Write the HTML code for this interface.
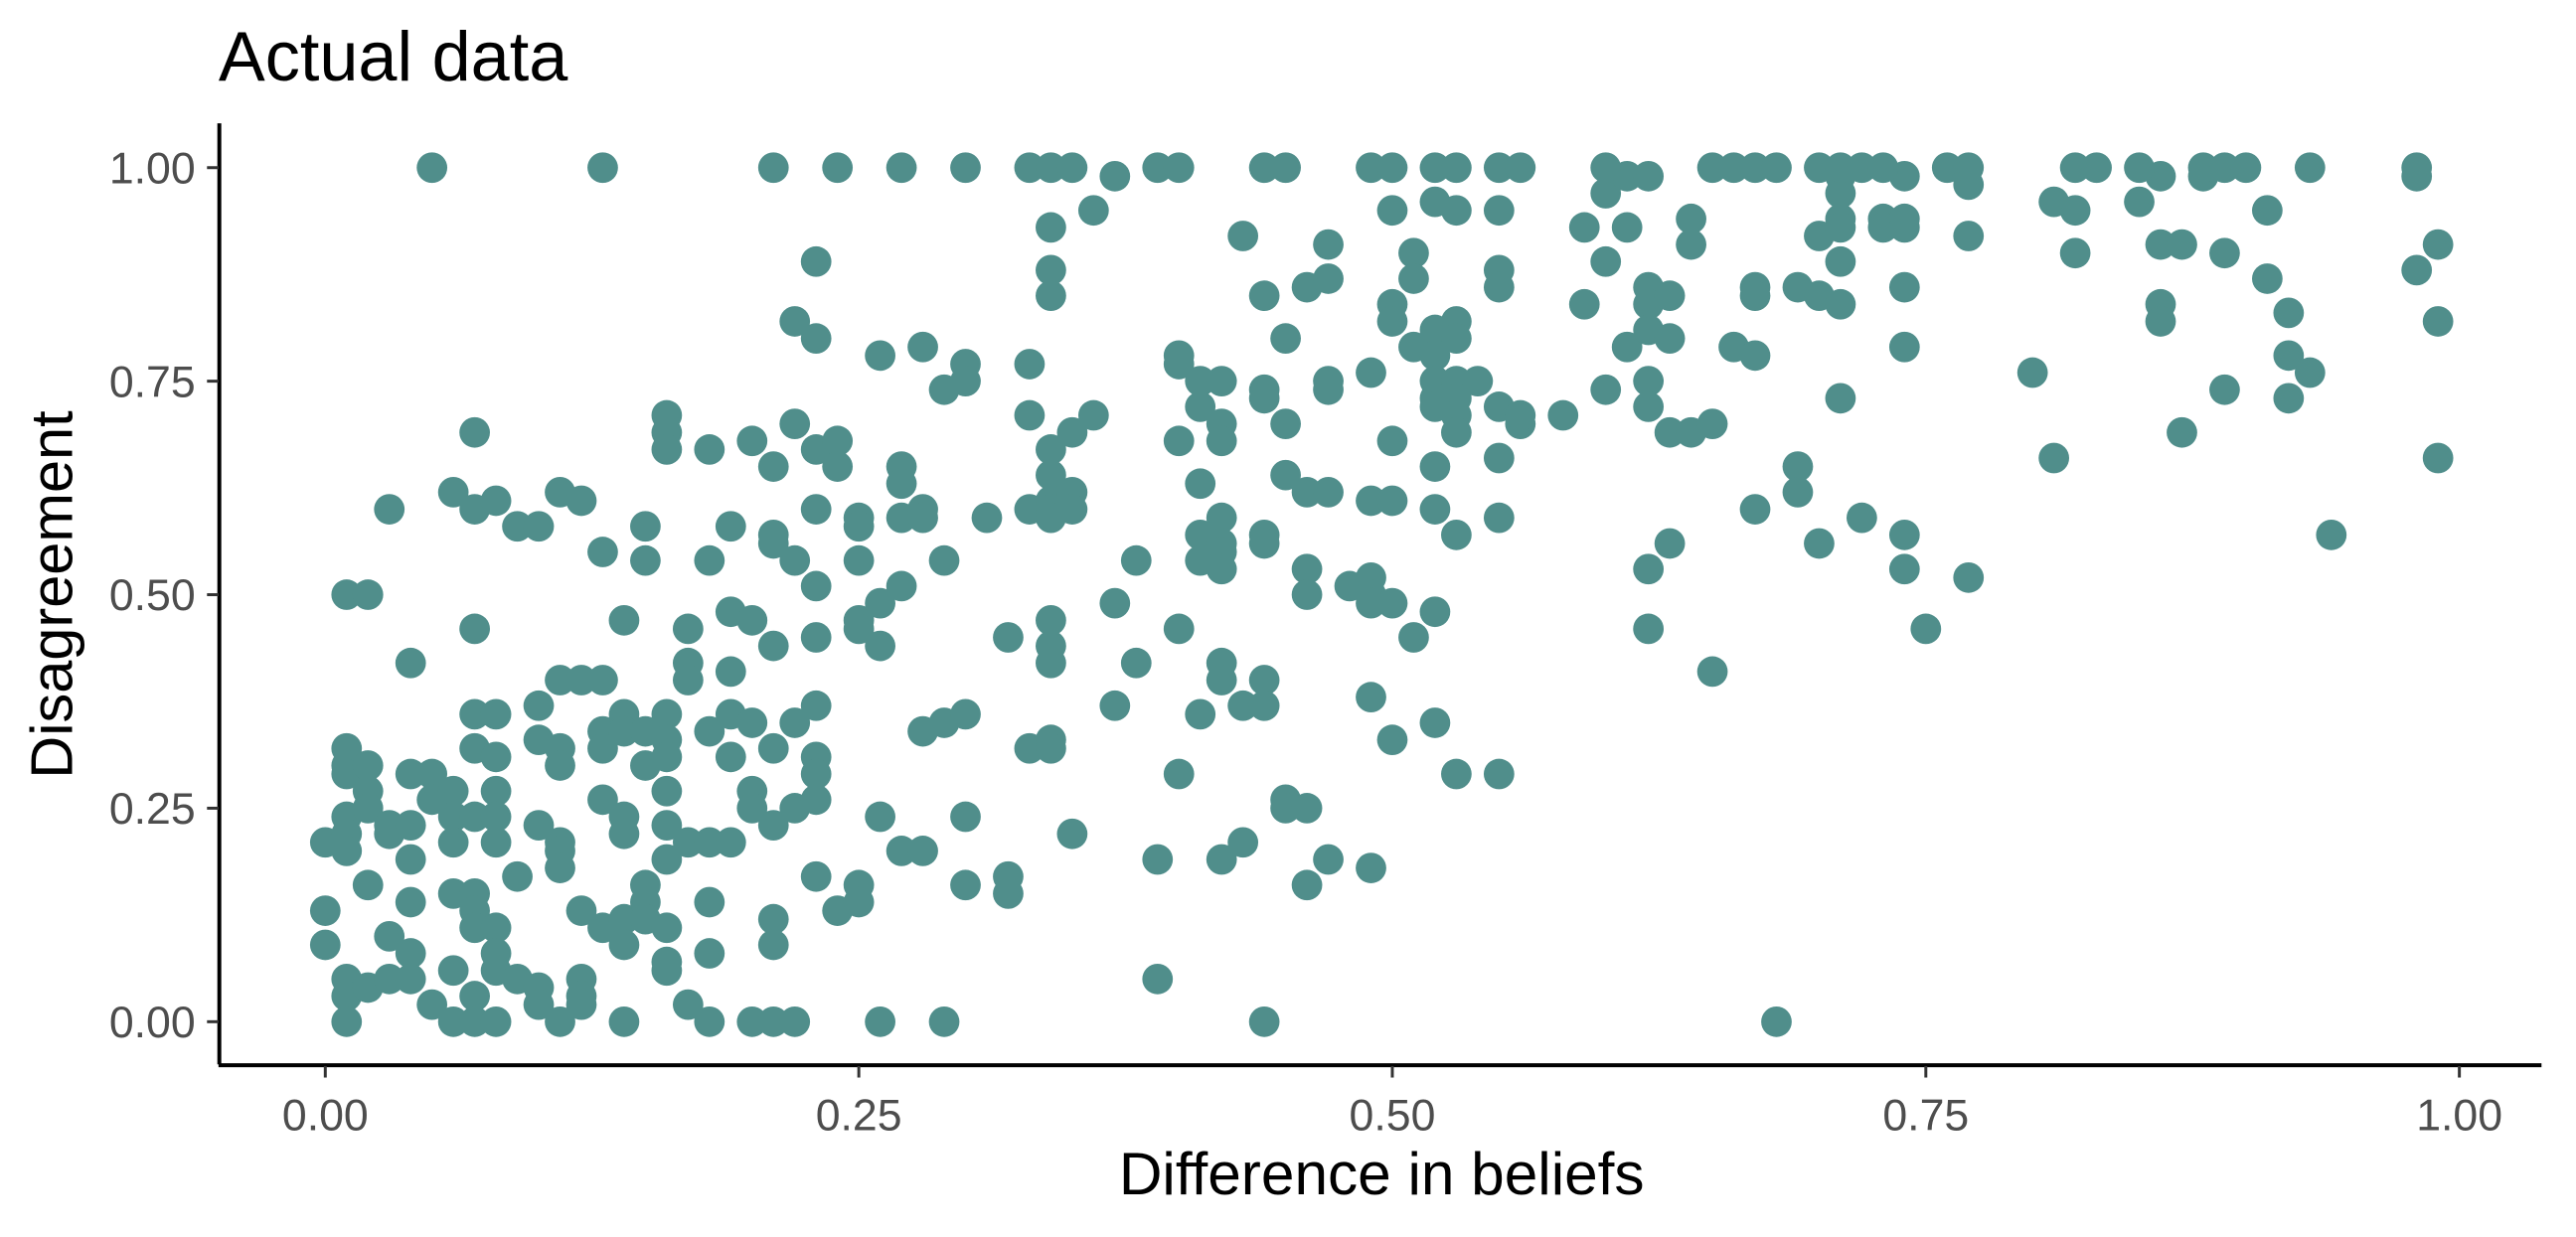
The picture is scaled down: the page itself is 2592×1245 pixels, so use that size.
<!DOCTYPE html>
<html><head><meta charset="utf-8">
<style>
html,body{margin:0;padding:0;background:#fff;}
svg{display:block;font-family:"Liberation Sans",sans-serif;}
</style></head>
<body>
<svg id="chart" width="2592" height="1245" viewBox="0 0 1568 753" xmlns="http://www.w3.org/2000/svg">
<text x="133" y="49" font-size="42.5" fill="#000">Actual data</text>
<g id="points"></g>
<line x1="133.5" y1="75" x2="133.5" y2="648" stroke="#000" stroke-width="2.4"/>
<line x1="133" y1="648.5" x2="1547" y2="648.5" stroke="#000" stroke-width="2.4"/>
<g id="xticks"></g>
<g id="yticks"></g>
<text x="841" y="727" font-size="36.5" text-anchor="middle" fill="#000">Difference in beliefs</text>
<text transform="translate(44,362) rotate(-90)" font-size="36" text-anchor="middle" fill="#000">Disagreement</text>
</svg>
<script>
const tickValues = [0, 0.25, 0.5, 0.75, 1];
const tickLabels = ["0.00", "0.25", "0.50", "0.75", "1.00"];
const topRowX = [0.05,0.13,0.21,0.24,0.27,0.30,0.33,0.34,0.35,0.39,0.40,0.44,0.45,0.49,0.50,0.52,0.53,0.55,0.56,0.60,0.65,0.66,0.67,0.68,0.70,0.71,0.72,0.73,0.76,0.77,0.82,0.83,0.85,0.88,0.89,0.90,0.93,0.98];
const bottomRowX = [0.01,0.06,0.07,0.08,0.11,0.14,0.18,0.20,0.21,0.22,0.26,0.29,0.44,0.68];
const otherPoints = [
[0.00,0.21],[0.00,0.13],[0.00,0.09],[0.01,0.50],[0.02,0.50],[0.01,0.32],[0.01,0.30],[0.01,0.29],[0.02,0.30],[0.01,0.24],[0.01,0.22],[0.01,0.20],[0.02,0.27],[0.02,0.25],[0.02,0.16],[0.01,0.05],[0.01,0.03],[0.02,0.04],[0.03,0.60],[0.03,0.22],[0.03,0.23],[0.03,0.10],[0.03,0.05],[0.04,0.42],[0.04,0.29],[0.04,0.23],[0.04,0.19],[0.04,0.14],[0.04,0.08],[0.04,0.05],[0.05,0.29],[0.05,0.26],[0.05,0.02],
[0.06,0.62],[0.06,0.27],[0.06,0.24],[0.06,0.21],[0.06,0.15],[0.06,0.06],[0.07,0.69],[0.07,0.60],[0.07,0.46],[0.07,0.36],[0.07,0.32],[0.07,0.24],[0.07,0.15],[0.07,0.13],[0.07,0.11],[0.07,0.03],[0.08,0.61],[0.08,0.36],[0.08,0.31],[0.08,0.27],[0.08,0.24],[0.08,0.21],[0.08,0.11],[0.08,0.08],[0.08,0.06],[0.09,0.58],[0.09,0.17],[0.09,0.05],[0.10,0.58],[0.10,0.37],[0.10,0.33],[0.10,0.23],[0.10,0.04],[0.10,0.02],
[0.11,0.62],[0.11,0.40],[0.11,0.32],[0.11,0.30],[0.11,0.21],[0.11,0.20],[0.11,0.18],[0.12,0.61],[0.12,0.40],[0.12,0.13],[0.12,0.05],[0.12,0.03],[0.12,0.02],[0.13,0.55],[0.13,0.40],[0.13,0.34],[0.13,0.32],[0.13,0.26],[0.13,0.11],[0.14,0.47],[0.14,0.36],[0.14,0.34],[0.14,0.24],[0.14,0.22],[0.14,0.12],[0.14,0.09],[0.15,0.58],[0.15,0.54],[0.15,0.34],[0.15,0.30],[0.15,0.16],[0.15,0.14],[0.15,0.12],
[0.16,0.71],[0.16,0.69],[0.16,0.67],[0.16,0.36],[0.16,0.33],[0.16,0.31],[0.16,0.27],[0.16,0.23],[0.16,0.19],[0.16,0.11],[0.16,0.07],[0.16,0.06],[0.17,0.46],[0.17,0.42],[0.17,0.40],[0.17,0.21],[0.17,0.02],[0.18,0.67],[0.18,0.54],[0.18,0.34],[0.18,0.21],[0.18,0.14],[0.18,0.08],[0.19,0.58],[0.19,0.48],[0.19,0.41],[0.19,0.36],[0.19,0.31],[0.19,0.21],[0.20,0.68],[0.20,0.47],[0.20,0.35],[0.20,0.27],[0.20,0.25],
[0.21,0.65],[0.21,0.57],[0.21,0.56],[0.21,0.44],[0.21,0.32],[0.21,0.23],[0.21,0.12],[0.21,0.09],[0.22,0.82],[0.22,0.70],[0.22,0.54],[0.22,0.35],[0.22,0.25],[0.23,0.89],[0.23,0.80],[0.23,0.67],[0.23,0.60],[0.23,0.51],[0.23,0.45],[0.23,0.37],[0.23,0.31],[0.23,0.29],[0.23,0.26],[0.23,0.17],[0.24,0.68],[0.24,0.65],[0.24,0.13],[0.25,0.59],[0.25,0.58],[0.25,0.54],[0.25,0.47],[0.25,0.46],[0.25,0.16],[0.25,0.14],
[0.26,0.78],[0.26,0.49],[0.26,0.44],[0.26,0.24],[0.27,0.65],[0.27,0.63],[0.27,0.59],[0.27,0.51],[0.27,0.20],[0.28,0.79],[0.28,0.60],[0.28,0.59],[0.28,0.34],[0.28,0.20],[0.29,0.74],[0.29,0.54],[0.29,0.35],[0.30,0.77],[0.30,0.75],[0.30,0.36],[0.30,0.24],[0.30,0.16],
[0.31,0.59],[0.32,0.45],[0.32,0.17],[0.32,0.15],[0.33,0.77],[0.33,0.71],[0.33,0.60],[0.33,0.32],[0.34,0.93],[0.34,0.88],[0.34,0.85],[0.34,0.67],[0.34,0.64],[0.34,0.61],[0.34,0.60],[0.34,0.59],[0.34,0.47],[0.34,0.44],[0.34,0.42],[0.34,0.33],[0.34,0.32],[0.35,0.69],[0.35,0.62],[0.35,0.60],[0.35,0.22],
[0.36,0.95],[0.36,0.71],[0.37,0.99],[0.37,0.49],[0.37,0.37],[0.38,0.54],[0.38,0.42],[0.39,0.19],[0.39,0.05],[0.40,0.78],[0.40,0.77],[0.40,0.68],[0.40,0.46],[0.40,0.29],
[0.41,0.75],[0.41,0.72],[0.41,0.63],[0.41,0.57],[0.41,0.54],[0.41,0.36],[0.42,0.75],[0.42,0.70],[0.42,0.68],[0.42,0.59],[0.42,0.56],[0.42,0.55],[0.42,0.53],[0.42,0.42],[0.42,0.40],[0.42,0.19],[0.43,0.92],[0.43,0.37],[0.43,0.21],[0.44,0.85],[0.44,0.74],[0.44,0.73],[0.44,0.57],[0.44,0.56],[0.44,0.40],[0.44,0.37],[0.45,0.80],[0.45,0.70],[0.45,0.64],[0.45,0.26],[0.45,0.25],
[0.46,0.86],[0.46,0.62],[0.46,0.53],[0.46,0.50],[0.46,0.25],[0.46,0.16],[0.47,0.91],[0.47,0.87],[0.47,0.75],[0.47,0.74],[0.47,0.62],[0.47,0.19],[0.48,0.51],[0.49,0.76],[0.49,0.61],[0.49,0.52],[0.49,0.50],[0.49,0.49],[0.49,0.38],[0.49,0.18],[0.50,0.95],[0.50,0.84],[0.50,0.82],[0.50,0.68],[0.50,0.61],[0.50,0.49],[0.50,0.33],
[0.51,0.90],[0.51,0.87],[0.51,0.79],[0.51,0.45],[0.52,0.96],[0.52,0.81],[0.52,0.78],[0.52,0.75],[0.52,0.73],[0.52,0.72],[0.52,0.65],[0.52,0.60],[0.52,0.48],[0.52,0.35],[0.53,0.95],[0.53,0.82],[0.53,0.80],[0.53,0.75],[0.53,0.73],[0.53,0.71],[0.53,0.69],[0.53,0.57],[0.53,0.29],[0.54,0.75],[0.55,0.95],[0.55,0.88],[0.55,0.86],[0.55,0.72],[0.55,0.66],[0.55,0.59],[0.55,0.29],[0.56,0.70],[0.56,0.71],
[0.58,0.71],[0.59,0.93],[0.59,0.84],[0.60,0.97],[0.60,0.89],[0.60,0.74],[0.61,0.99],[0.61,0.93],[0.61,0.79],[0.62,0.99],[0.62,0.86],[0.62,0.84],[0.62,0.81],[0.62,0.75],[0.62,0.72],[0.62,0.53],[0.62,0.46],[0.63,0.85],[0.63,0.80],[0.63,0.69],[0.63,0.56],[0.64,0.94],[0.64,0.91],[0.64,0.69],[0.65,0.70],[0.65,0.41],
[0.66,0.79],[0.67,0.86],[0.67,0.85],[0.67,0.78],[0.67,0.60],[0.69,0.86],[0.69,0.65],[0.69,0.62],[0.70,0.92],[0.70,0.85],[0.70,0.56],
[0.71,0.99],[0.71,0.97],[0.71,0.94],[0.71,0.93],[0.71,0.89],[0.71,0.84],[0.71,0.73],[0.72,0.59],[0.73,0.94],[0.73,0.93],[0.74,0.99],[0.74,0.94],[0.74,0.93],[0.74,0.86],[0.74,0.79],[0.74,0.57],[0.74,0.53],[0.75,0.46],[0.77,0.98],[0.77,0.92],[0.77,0.52],
[0.80,0.76],[0.81,0.96],[0.81,0.66],[0.82,0.95],[0.82,0.90],[0.85,0.96],[0.86,0.99],[0.86,0.91],[0.86,0.84],[0.86,0.82],[0.87,0.91],[0.87,0.69],[0.88,0.99],[0.89,0.90],[0.89,0.74],[0.91,0.95],[0.91,0.87],[0.92,0.83],[0.92,0.78],[0.92,0.73],[0.93,0.76],[0.94,0.57],[0.98,0.99],[0.98,0.88],[0.99,0.91],[0.99,0.82],[0.99,0.66]
];
const NS = "http://www.w3.org/2000/svg";
function xScale(v){ return 198 + v * 1299; }
function yScale(v){ return 622 - v * 520; }
const allPoints = otherPoints.concat(topRowX.map(x => [x, 1]), bottomRowX.map(x => [x, 0]));
const pg = document.getElementById('points');
allPoints.forEach(p => {
  const c = document.createElementNS(NS, 'circle');
  c.setAttribute('cx', xScale(p[0]));
  c.setAttribute('cy', yScale(p[1]));
  c.setAttribute('r', 9.3);
  c.setAttribute('fill', '#508e8b');
  
  
  pg.appendChild(c);
});
const xg = document.getElementById('xticks');
const yg = document.getElementById('yticks');
tickValues.forEach((v, i) => {
  const xt = document.createElementNS(NS, 'line');
  xt.setAttribute('x1', xScale(v)); xt.setAttribute('x2', xScale(v));
  xt.setAttribute('y1', 649); xt.setAttribute('y2', 656);
  xt.setAttribute('stroke', '#333'); xt.setAttribute('stroke-width', 1.8);
  
  
  xg.appendChild(xt);
  const xl = document.createElementNS(NS, 'text');
  xl.setAttribute('x', xScale(v)); xl.setAttribute('y', 688);
  xl.setAttribute('text-anchor', 'middle'); xl.setAttribute('font-size', 27);
  xl.setAttribute('fill', '#4d4d4d');
  xl.textContent = tickLabels[i];
  
  
  xg.appendChild(xl);
  const yt = document.createElementNS(NS, 'line');
  yt.setAttribute('x1', 126); yt.setAttribute('x2', 133);
  yt.setAttribute('y1', yScale(v)); yt.setAttribute('y2', yScale(v));
  yt.setAttribute('stroke', '#333'); yt.setAttribute('stroke-width', 1.8);
  
  
  yg.appendChild(yt);
  const yl = document.createElementNS(NS, 'text');
  yl.setAttribute('x', 119); yl.setAttribute('y', yScale(v) + 9.5);
  yl.setAttribute('text-anchor', 'end'); yl.setAttribute('font-size', 27);
  yl.setAttribute('fill', '#4d4d4d');
  yl.textContent = tickLabels[i];
  
  
  yg.appendChild(yl);
});
</script>
</body></html>
